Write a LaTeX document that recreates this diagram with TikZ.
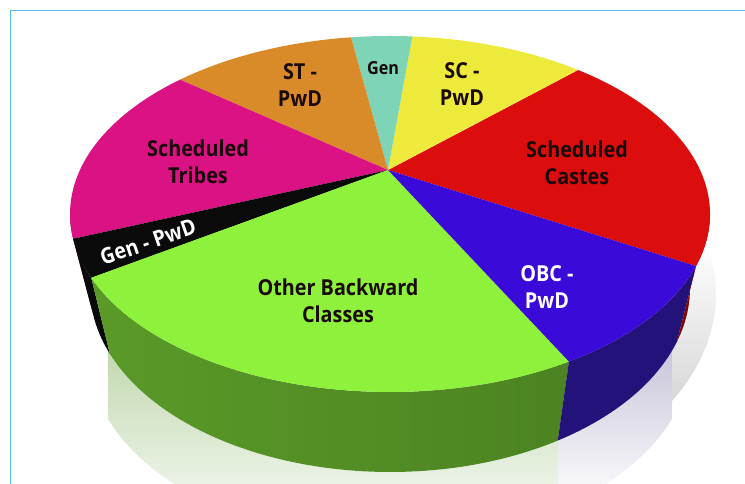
\documentclass[tikz,border=0pt]{standalone}
\usepackage{fontspec}
\setmainfont{Open Sans}[FakeStretch=0.9]
\usetikzlibrary{calc}

\definecolor{frameblue}{HTML}{5CBEF0}
\definecolor{castesred}{HTML}{DC0D0D}
\definecolor{castesside}{HTML}{7C0808}
\definecolor{scyellow}{HTML}{EEEA3C}
\definecolor{genteal}{HTML}{7DD4B6}
\definecolor{storange}{HTML}{D98B2A}
\definecolor{tribespink}{HTML}{DB1283}
\definecolor{tribesside}{HTML}{7A0A48}
\definecolor{genblack}{HTML}{0A0A0A}
\definecolor{obcgreen}{HTML}{8EF23C}
\definecolor{obcsidelight}{HTML}{5A9A28}
\definecolor{obcsidedark}{HTML}{3A661B}
\definecolor{obcblue}{HTML}{3A0BD8}
\definecolor{obcside}{HTML}{22127A}
\definecolor{reflgreen}{HTML}{C2D9B0}
\definecolor{reflblue}{HTML}{C9C6DA}
\definecolor{labeldark}{HTML}{1A0A0A}

% side of a slice between two angles, #3 = fill options
\newcommand{\pieside}[3]{%
  \path[#3] ($(ctop)+(#1:320pt and 178pt)$)
    arc[start angle=#1, end angle=#2, x radius=320pt, y radius=178pt]
    -- ($(cbot)+(#2:300pt and 184pt)$)
    arc[start angle=#2, end angle=#1, x radius=300pt, y radius=184pt] -- cycle;}
% top of a slice
\newcommand{\pietop}[3]{%
  \fill[#3] (apex) -- ($(ctop)+(#1:320pt and 178pt)$)
    arc[start angle=#1, end angle=#2, x radius=320pt, y radius=178pt] -- cycle;}

\begin{document}
\begin{tikzpicture}[x=1pt, y=1pt,
    lbl/.style={font=\bfseries\fontsize{22}{27}\selectfont, align=center, text=labeldark, inner sep=0pt},
    lblw/.style={lbl, text=white}]
  \useasboundingbox (0,0) rectangle (745,484);
  \fill[white] (0,0) rectangle (745,484);
  \draw[frameblue, line width=1.6pt] (10.5,0) -- (10.5,473.5) -- (745,473.5);

  \coordinate (ctop) at (390,270);
  \coordinate (cbot) at (390,196);
  \coordinate (apex) at (388,314);
  \coordinate (crefl) at (390,128);
  \coordinate (cshadow) at (394,190);

  % soft shadow
  \shade[top color=white, bottom color=black!25]
    ($(cshadow)+(15:322pt and 212pt)$) arc[start angle=15, end angle=-80, x radius=322pt, y radius=212pt]
    -- (cbot) -- cycle;

  % reflection
  \shade[top color=reflgreen, bottom color=white]
    ($(cbot)+(200:300pt and 184pt)$) arc[start angle=200, end angle=304, x radius=300pt, y radius=184pt]
    -- ($(crefl)+(304:300pt and 184pt)$) arc[start angle=304, end angle=200, x radius=300pt, y radius=184pt] -- cycle;
  \shade[top color=reflblue, bottom color=white]
    ($(cbot)+(304:300pt and 184pt)$) arc[start angle=304, end angle=340, x radius=300pt, y radius=184pt]
    -- ($(crefl)+(340:300pt and 184pt)$) arc[start angle=340, end angle=304, x radius=300pt, y radius=184pt] -- cycle;

  % sides
  \pieside{180}{188}{fill=tribesside}
  \pieside{188}{201}{fill=genblack}
  \pieside{201}{304}{left color=obcsidelight, middle color=obcsidedark, right color=obcsidelight!85!black}
  \pieside{304}{343}{fill=obcside}
  \pieside{343}{360}{fill=castesside}

  % tops
  \pietop{343}{414}{castesred}
  \pietop{54}{86}{scyellow}
  \pietop{86}{97}{genteal}
  \pietop{97}{131}{storange}
  \pietop{131}{188}{tribespink}
  \pietop{188}{201}{genblack}
  \pietop{201}{304}{obcgreen}
  \pietop{304}{343}{obcblue}

  % labels
  \node[lbl] (lblST) at (300,399) {ST -\\PwD};
  \node[lbl, font=\bfseries\fontsize{18}{20}\selectfont] (lblGen) at (383,416) {Gen};
  \node[lbl] (lblSC) at (462,400) {SC -\\PwD};
  \node[lbl] (lblTribes) at (198,322) {Scheduled\\Tribes};
  \node[lbl] (lblCastes) at (577,321) {Scheduled\\Castes};
  \node[lbl] (lblOBC) at (338,183) {Other Backward\\Classes};
  \node[lblw] (lblOBCPwD) at (547,197) {OBC -\\PwD};
  \node[lblw, rotate=19] (lblGenPwD) at (148,242) {Gen - PwD};
\end{tikzpicture}
\end{document}
